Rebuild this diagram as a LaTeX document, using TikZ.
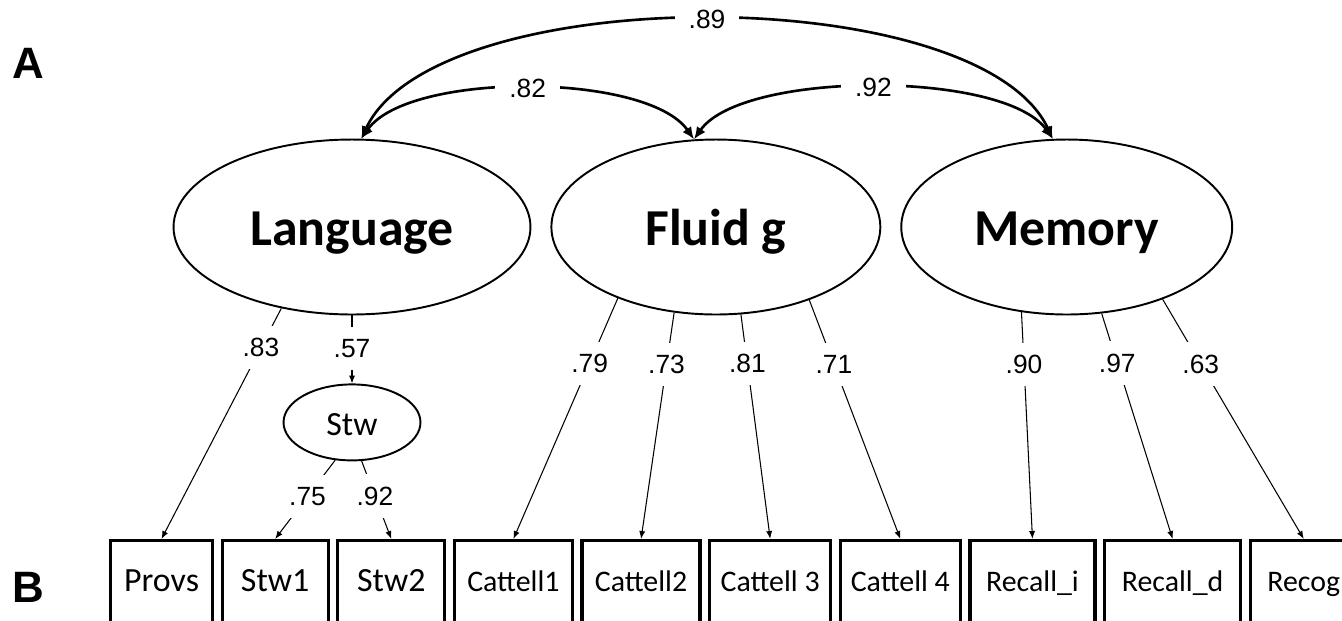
\documentclass[tikz,border=0pt]{standalone}
\usepackage{fontspec}
\setmainfont{Liberation Sans}
\newfontfamily\calibri{Carlito}
\usetikzlibrary{positioning, arrows.meta, shapes.geometric}

\begin{document}
\begin{tikzpicture}[x=0.02cm, y=-0.02cm, >=Latex, font=\fontsize{15}{17}\selectfont]

    \tikzstyle{latent} = [draw, ellipse, line width=1.1pt, inner sep=0pt, minimum height=3.5cm, text height=24.9pt, text depth=3.4pt, font=\calibri\bfseries\fontsize{29.5}{32}\selectfont]
    \tikzstyle{obs} = [draw, rectangle, line width=1.8pt, inner sep=0pt, minimum height=1.7cm, text height=13.6pt, text depth=3.4pt, font=\calibri\fontsize{17}{20}\selectfont]
    \tikzstyle{cov} = [line width=1.5pt, {Latex[length=7pt,width=6pt]}-{Latex[length=7pt,width=6pt]}]
    \tikzstyle{load} = [line width=0.6pt, -{Latex[length=4.5pt,width=3.5pt]}]
    \tikzstyle{coef} = [fill=white, inner xsep=1pt, inner ysep=7pt]
    \tikzstyle{corr} = [fill=white, inner xsep=8pt, inner ysep=2pt]

    \useasboundingbox (0,0) rectangle (1342,620);

    % Panel letters
    \node[font=\bfseries\fontsize{25}{28}\selectfont] (pa) at (28,63) {A};
    \node[font=\bfseries\fontsize{25}{28}\selectfont] (pb) at (28,587) {B};

    % Factors
    \node[latent, minimum width=7.14cm] (lang) at (352,227) {Language};
    \node[latent, minimum width=6.58cm, right=0.38cm of lang] (fluid) {Fluid g};
    \node[latent, minimum width=6.62cm, right=0.38cm of fluid] (mem) {Memory};
    \node[latent, minimum width=2.74cm, minimum height=1.52cm, text height=17pt, text depth=2.3pt, below=1.36cm of lang, font=\calibri\fontsize{19.3}{22}\selectfont] (stw) {Stw};

    % Indicators
    \node[obs, minimum width=2.04cm, font=\calibri\fontsize{19.3}{22}\selectfont] (provs) at (161.5,583) {Provs};
    \node[obs, minimum width=2.12cm, right=0.13cm of provs, font=\calibri\fontsize{19.3}{22}\selectfont] (stwa) {Stw1};
    \node[obs, minimum width=2.14cm, right=0.13cm of stwa, font=\calibri\fontsize{19.3}{22}\selectfont] (stwb) {Stw2};
    \node[obs, minimum width=2.36cm, right=0.13cm of stwb] (cata) {Cattell1};
    \node[obs, minimum width=2.36cm, right=0.13cm of cata] (catb) {Cattell2};
    \node[obs, minimum width=2.42cm, right=0.13cm of catb] (catc) {Cattell 3};
    \node[obs, minimum width=2.40cm, right=0.13cm of catc] (catd) {Cattell 4};
    \node[obs, minimum width=2.50cm, right=0.13cm of catd] (reci) {Recall\_i};
    \node[obs, minimum width=2.72cm, right=0.13cm of reci] (recd) {Recall\_d};
    \node[obs, minimum width=2.14cm, right=0.13cm of recd] (recog) {Recog};

    % Factor correlations
    \draw[cov] (lang.84) to[out=65, in=115, looseness=0.65] node[corr] {.89} (mem.99);
    \draw[cov] (lang.84) to[out=55, in=125, looseness=0.63] node[corr] {.82} (fluid.104);
    \draw[cov] (fluid.104) to[out=55, in=125, looseness=0.60] node[corr] {.92} (mem.99);

    % Loadings
    \draw[load] (lang.229) -- node[coef, pos=0.17] {.83} (provs.north);
    \draw[load] (lang.south) -- node[coef, pos=0.48] {.57} (stw.north);
    \draw[load] (stw.246) -- node[coef, pos=0.46] {.75} (stwa.north);
    \draw[load] (stw.284) -- node[coef, pos=0.45] {.92} (stwb.north);
    \draw[load] (fluid.216) -- node[coef, pos=0.27] {.79} (cata.north);
    \draw[load] (fluid.244) -- node[coef, pos=0.23] {.73} (catb.north);
    \draw[load] (fluid.286) -- node[coef, pos=0.22] {.81} (catc.north);
    \draw[load] (fluid.322) -- node[coef, pos=0.27] {.71} (catd.north);
    \draw[load] (mem.242) -- node[coef, pos=0.23] {.90} (reci.north);
    \draw[load] (mem.292) -- node[coef, pos=0.22] {.97} (recd.north);
    \draw[load] (mem.323) -- node[coef, pos=0.27] {.63} (recog.north);
\end{tikzpicture}
\end{document}
